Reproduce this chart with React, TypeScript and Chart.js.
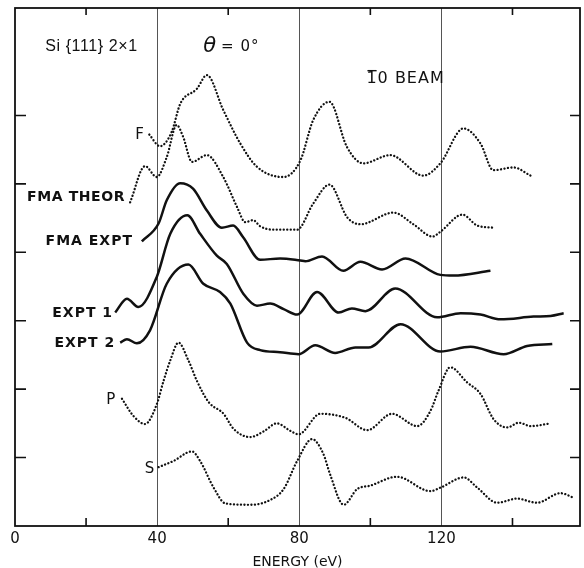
import React, { useEffect, useRef } from "react";
import { Chart, registerables } from "chart.js";

Chart.register(...registerables);

// ---- data (energy in eV, intensity in offset tick units) ----
const fEnergy = [37.8, 40.8, 44.1, 46.5, 51.2, 54.0, 58.6, 63.4, 68.1, 75.5, 80.3, 83.9, 88.5, 93.4, 98.0, 105.6, 114.9, 119.7, 126.2, 131.0, 134.6, 140.3, 145.1];
const fValue = [5.72, 5.55, 5.76, 6.17, 6.39, 6.59, 6.08, 5.59, 5.25, 5.10, 5.34, 5.93, 6.20, 5.54, 5.30, 5.42, 5.12, 5.30, 5.81, 5.59, 5.20, 5.24, 5.12];

const theorEnergy = [32.4, 36.6, 39.9, 42.7, 45.5, 47.3, 49.8, 54.0, 58.6, 62.5, 64.8, 67.0, 69.0, 72.7, 79.4, 83.9, 88.5, 93.5, 97.2, 106.5, 112.1, 117.5, 119.7, 125.9, 130.1, 134.6];
const theorValue = [4.73, 5.26, 5.10, 5.39, 5.86, 5.69, 5.32, 5.42, 5.10, 4.66, 4.44, 4.47, 4.38, 4.33, 4.33, 4.71, 4.99, 4.51, 4.41, 4.58, 4.41, 4.23, 4.30, 4.55, 4.39, 4.36];

const fmaExptEnergy = [35.7, 40.4, 42.7, 46.5, 50.1, 54.0, 58.2, 61.4, 64.2, 69.0, 74.6, 80.3, 81.7, 86.4, 92.4, 97.2, 103.3, 109.9, 119.7, 123.4, 133.8];
const fmaExptValue = [4.16, 4.42, 4.76, 5.01, 4.93, 4.61, 4.36, 4.39, 4.22, 3.89, 3.91, 3.88, 3.87, 3.94, 3.73, 3.86, 3.75, 3.91, 3.67, 3.66, 3.73];

const expt1Energy = [28.2, 31.5, 34.7, 39.9, 43.7, 48.5, 52.1, 56.8, 59.6, 64.3, 68.1, 71.8, 75.6, 79.4, 85.0, 91.1, 94.8, 98.6, 107.0, 118.8, 125.4, 131.0, 136.6, 145.9, 150.7, 154.4];
const expt1Value = [3.12, 3.32, 3.20, 3.64, 4.27, 4.54, 4.27, 3.95, 3.83, 3.39, 3.22, 3.25, 3.17, 3.09, 3.42, 3.12, 3.18, 3.14, 3.47, 3.05, 3.11, 3.09, 3.02, 3.06, 3.07, 3.11];

const expt2Energy = [29.6, 31.5, 34.3, 38.0, 42.7, 48.8, 53.0, 57.7, 60.6, 65.3, 69.0, 74.6, 79.8, 84.5, 90.1, 95.8, 99.5, 108.5, 119.7, 128.2, 137.5, 144.1, 151.2];
const expt2Value = [2.68, 2.73, 2.67, 2.86, 3.54, 3.82, 3.54, 3.42, 3.25, 2.68, 2.57, 2.54, 2.51, 2.64, 2.53, 2.61, 2.61, 2.95, 2.55, 2.62, 2.51, 2.63, 2.66];

const pEnergy = [30.1, 33.3, 36.6, 39.9, 41.8, 43.7, 46.0, 48.8, 51.2, 54.5, 58.7, 61.5, 66.2, 69.9, 73.7, 77.5, 79.8, 85.9, 93.0, 99.1, 106.1, 113.2, 116.9, 119.2, 122.5, 127.2, 131.0, 134.7, 138.5, 141.8, 145.1, 150.7];
const pValue = [1.86, 1.61, 1.49, 1.78, 2.12, 2.42, 2.68, 2.42, 2.12, 1.81, 1.64, 1.42, 1.30, 1.38, 1.50, 1.39, 1.34, 1.64, 1.58, 1.40, 1.64, 1.46, 1.68, 1.98, 2.32, 2.10, 1.93, 1.56, 1.44, 1.51, 1.46, 1.50];

const sEnergy = [40.4, 44.6, 49.8, 52.1, 55.9, 59.2, 66.2, 71.8, 75.6, 79.4, 83.6, 86.8, 88.7, 92.5, 96.3, 100.0, 107.5, 116.9, 119.7, 126.3, 130.1, 135.7, 141.3, 146.9, 153.5, 157.3];
const sValue = [0.86, 0.95, 1.09, 0.95, 0.56, 0.33, 0.31, 0.38, 0.54, 0.95, 1.27, 1.05, 0.75, 0.31, 0.54, 0.59, 0.72, 0.51, 0.56, 0.71, 0.56, 0.34, 0.40, 0.34, 0.48, 0.41];

const xLabelTicks = [0, 40, 80, 120];
const xGridLines = [40, 80, 120];
const xMinorTicks = [20, 60, 100, 140];
const yTickValues = [1, 2, 3, 4, 5, 6];

const X_MIN = 0;
const X_MAX = 159;
const Y_MIN = 0;
const Y_MAX = 7.57;

const FONT = "'DejaVu Sans', 'Liberation Sans', sans-serif";
const NARROW = "'Liberation Sans', Arial, sans-serif";

type Note = { text: string; x: number; y: number; align: CanvasTextAlign; font: string; spacing: string; overbar?: boolean };
const notes: Note[] = [
  { text: "Si {111} 2×1", x: 8.5, y: 7.0, align: "left", font: `16px ${NARROW}`, spacing: "0.6px" },
  { text: "θ", x: 53.0, y: 7.0, align: "left", font: `italic 21px ${FONT}`, spacing: "0px" },
  { text: "= 0°", x: 58.0, y: 7.0, align: "left", font: `15px ${FONT}`, spacing: "1px" },
  { text: "10 BEAM", x: 98.9, y: 6.53, align: "left", font: `16px ${FONT}`, spacing: "1px", overbar: true },
  { text: "F", x: 36.3, y: 5.71, align: "right", font: `15px ${FONT}`, spacing: "0px" },
  { text: "FMA THEOR", x: 31.0, y: 4.8, align: "right", font: `bold 14px ${FONT}`, spacing: "0.6px" },
  { text: "FMA EXPT", x: 33.2, y: 4.16, align: "right", font: `bold 14px ${FONT}`, spacing: "1px" },
  { text: "EXPT 1", x: 27.6, y: 3.11, align: "right", font: `bold 14px ${FONT}`, spacing: "1px" },
  { text: "EXPT 2", x: 28.2, y: 2.67, align: "right", font: `bold 14px ${FONT}`, spacing: "1px" },
  { text: "P", x: 28.2, y: 1.84, align: "right", font: `15px ${FONT}`, spacing: "0px" },
  { text: "S", x: 39.2, y: 0.83, align: "right", font: `15px ${FONT}`, spacing: "0px" },
];

const toPoints = (xs: number[], ys: number[]) => xs.map((x, i) => ({ x, y: ys[i] }));

const overlay = {
  id: "overlay",
  afterDraw(chart: any) {
    const { ctx, chartArea, scales } = chart;
    const { left, right, top, bottom } = chartArea;
    const xs = scales.x;
    const ys = scales.y;
    ctx.save();
    ctx.strokeStyle = "#111";
    ctx.lineWidth = 1.8;
    ctx.strokeRect(left, top, right - left, bottom - top);
    ctx.lineWidth = 1.6;
    ctx.beginPath();
    xMinorTicks.forEach((v) => {
      const px = xs.getPixelForValue(v);
      ctx.moveTo(px, bottom);
      ctx.lineTo(px, bottom - 8);
      ctx.moveTo(px, top);
      ctx.lineTo(px, top + 7);
    });
    yTickValues.forEach((v) => {
      const py = ys.getPixelForValue(v);
      ctx.moveTo(left, py);
      ctx.lineTo(left + 11, py);
      ctx.moveTo(right, py);
      ctx.lineTo(right - 10, py);
    });
    ctx.stroke();
    ctx.fillStyle = "#111";
    ctx.textBaseline = "middle";
    notes.forEach((n) => {
      ctx.font = n.font;
      ctx.textAlign = n.align;
      try { (ctx as any).letterSpacing = n.spacing; } catch (e) {}
      const px = xs.getPixelForValue(n.x);
      const py = ys.getPixelForValue(n.y);
      ctx.fillText(n.text, px, py);
      if (n.overbar) {
        const w = ctx.measureText(n.text.charAt(0)).width;
        ctx.lineWidth = 1.4;
        ctx.beginPath();
        ctx.moveTo(px + 1, py - 8.5);
        ctx.lineTo(px + w - 1, py - 8.5);
        ctx.stroke();
      }
    });
    ctx.restore();
  },
};

const dotted = (data: { x: number; y: number }[]) => ({
  data,
  borderColor: "#111",
  borderWidth: 2.3,
  borderDash: [0.1, 3.4],
  borderCapStyle: "round" as const,
  pointRadius: 0,
  showLine: true,
  cubicInterpolationMode: "monotone" as const,
  fill: false,
});

const solid = (data: { x: number; y: number }[]) => ({
  data,
  borderColor: "#111",
  borderWidth: 2.5,
  pointRadius: 0,
  showLine: true,
  cubicInterpolationMode: "monotone" as const,
  fill: false,
});

export default function App() {
  const ref = useRef<HTMLCanvasElement | null>(null);
  useEffect(() => {
    if (!ref.current) return;
    const chart = new Chart(ref.current, {
      type: "scatter",
      data: {
        datasets: [
          { label: "F", ...dotted(toPoints(fEnergy, fValue)) },
          { label: "FMA THEOR", ...dotted(toPoints(theorEnergy, theorValue)) },
          { label: "FMA EXPT", ...solid(toPoints(fmaExptEnergy, fmaExptValue)) },
          { label: "EXPT 1", ...solid(toPoints(expt1Energy, expt1Value)) },
          { label: "EXPT 2", ...solid(toPoints(expt2Energy, expt2Value)) },
          { label: "P", ...dotted(toPoints(pEnergy, pValue)) },
          { label: "S", ...dotted(toPoints(sEnergy, sValue)) },
        ] as any,
      },
      options: {
        animation: false,
        responsive: false,
        layout: { padding: { left: 15, right: 4, top: 8, bottom: -1 } },
        plugins: { legend: { display: false }, tooltip: { enabled: false } },
        scales: {
          x: {
            type: "linear",
            min: X_MIN,
            max: X_MAX,
            border: { display: false },
            grid: {
              drawTicks: false,
              lineWidth: 1,
              color: (c: any) => (xGridLines.includes(c.tick?.value) ? "#555" : "rgba(0,0,0,0)"),
            },
            ticks: {
              stepSize: 20,
              includeBounds: false,
              autoSkip: false,
              maxRotation: 0,
              padding: 6,
              color: "#111",
              font: { size: 15, family: FONT, lineHeight: 1.0 },
              callback: (v: any) => (xLabelTicks.includes(Number(v)) ? String(v) : ""),
            },
            title: {
              display: true,
              text: "ENERGY (eV)",
              color: "#111",
              font: { size: 14, family: FONT, lineHeight: 1.0 },
              padding: { top: 2, bottom: 0 },
            },
          },
          y: { type: "linear", min: Y_MIN, max: Y_MAX, display: false },
        },
      },
      plugins: [overlay],
    });
    return () => chart.destroy();
  }, []);
  return (
    <div style={{ position: "absolute", left: 0, top: 0, width: 584, height: 568, background: "#fff" }}>
      <canvas ref={ref} width={584} height={568} style={{ display: "block" }} />
    </div>
  );
}
